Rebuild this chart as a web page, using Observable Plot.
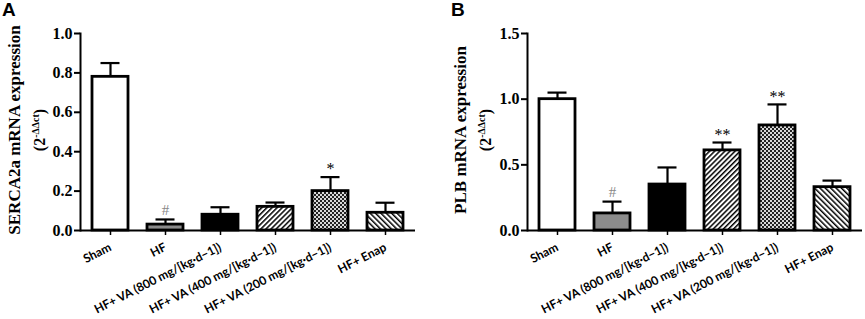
<!DOCTYPE html>
<html><head><meta charset="utf-8">
<script src="https://cdn.jsdelivr.net/npm/d3@7"></script>
<script src="https://cdn.jsdelivr.net/npm/@observablehq/plot@0.6"></script>
<style>
body{margin:0;background:#fff;}
#wrap{display:flex;width:865px;height:319px;}
.panel{position:relative;height:319px;}
.plabel{position:absolute;top:-1px;font:bold 19px "Liberation Sans",Arial,sans-serif;}
</style></head><body>
<svg width="0" height="0" style="position:absolute">
  <defs>
    <pattern id="hatchR" width="3.6" height="3.6" patternUnits="userSpaceOnUse" patternTransform="rotate(45)">
      <rect width="3.6" height="3.6" fill="white"/>
      <rect width="1.5" height="3.6" fill="black"/>
    </pattern>
    <pattern id="hatchL" width="3.8" height="3.8" patternUnits="userSpaceOnUse" patternTransform="rotate(-45)">
      <rect width="3.8" height="3.8" fill="white"/>
      <rect width="1.5" height="3.8" fill="black"/>
    </pattern>
    <pattern id="checker" width="4" height="4" patternUnits="userSpaceOnUse">
      <rect width="4" height="4" fill="#d8d8d8"/>
      <rect x="0" y="0" width="2" height="2" fill="#222"/>
      <rect x="2" y="2" width="2" height="2" fill="#222"/>
    </pattern>
  </defs>
</svg>
<div id="wrap"></div>
<script>
const groups = ["Sham","HF","HF+ VA (800 mg/[kg·d−1])","HF+ VA (400 mg/[kg·d−1])","HF+ VA (200 mg/[kg·d−1])","HF+ Enap"];
const fills = ["white","#8c8c8c","black","url(#hatchR)","url(#checker)","url(#hatchL)"];
const serca = [0.78,0.03,0.08,0.12,0.20,0.09];
const sercaTop = [0.85,0.056,0.118,0.142,0.271,0.141];
const sercaMark = ["","#","","","*",""];
const sercaTicks = [0,0.2,0.4,0.6,0.8,1.0];
const plb = [1.0,0.13,0.35,0.61,0.80,0.33];
const plbTop = [1.05,0.22,0.48,0.67,0.96,0.38];
const plbMark = ["","#","","**","**",""];
const plbTicks = [0,0.5,1.0,1.5];

function panel({letter, width, marginLeft, marginRight, ymax, ticks, vals, tops, marks, label, lx1, lx2, letterX}) {
  const data = groups.map((g,i)=>({g, v:vals[i], top:tops[i], fill:fills[i], mark:marks[i]}));
  const svg = Plot.plot({
    width, height:319, marginLeft, marginRight, marginTop:33, marginBottom:89,
    style:{background:"white", overflow:"visible"},
    x:{domain:groups, paddingInner:0.34, paddingOuter:0.17, label:null},
    y:{domain:[0,ymax], label:null},
    color:{type:"identity"},
    marks:[
      Plot.ruleX(data,{x:"g", y1:"v", y2:"top", strokeWidth:2.2}),
      Plot.tickY(data,{x:"g", y:"top", strokeWidth:2.2, insetLeft:8.5, insetRight:8.5}),
      Plot.barY(data,{x:"g", y:"v", fill:"fill", stroke:"black", strokeWidth:2.8}),
      Plot.text(data.filter(d=>d.mark==="#"),{x:"g", y:"top", text:"mark", dy:-9, fill:"#888", fontSize:15, fontFamily:"Liberation Serif"}),
      Plot.text(data.filter(d=>d.mark.startsWith("*")),{x:"g", y:"top", text:"mark", dy:-8, fill:"black", fontSize:16, fontFamily:"Liberation Serif"}),
      Plot.axisY({ticks, tickSize:6, tickPadding:2, tickFormat:".1f", fontFamily:"Liberation Serif", fontWeight:"bold", fontSize:16, strokeWidth:2, label:null}),
      Plot.axisX({tickSize:5, tickPadding:11, tickRotate:-27, fontFamily:"Lato", fontWeight:"bold", fontSize:12, strokeWidth:1.5, label:null}),
      Plot.ruleY([0],{strokeWidth:2}),
      Plot.frame({anchor:"left", strokeWidth:2})
    ]
  });
  const s = d3.select(svg);
  const cy = 130;
  s.append("text").attr("transform",`translate(${lx1},${cy}) rotate(-90)`)
    .attr("text-anchor","middle").attr("fill","black")
    .style("font","bold 17px 'Liberation Serif', serif").text(label);
  const t2 = s.append("text").attr("transform",`translate(${lx2},${cy}) rotate(-90)`)
    .attr("text-anchor","middle").attr("fill","black")
    .style("font","bold 16px 'Liberation Serif', serif");
  t2.append("tspan").text("(2");
  t2.append("tspan").attr("dy",-6).style("font-size","10px").text("-ΔΔct");
  t2.append("tspan").attr("dy",6).text(")");
  const div = document.createElement("div");
  div.className="panel"; div.style.width=width+"px";
  const lab = document.createElement("div");
  lab.className="plabel"; lab.style.left=letterX+"px"; lab.textContent=letter;
  div.appendChild(svg); div.appendChild(lab);
  document.getElementById("wrap").appendChild(div);
}

panel({letter:"A", width:432, marginLeft:80, marginRight:17, ymax:1.0, ticks:sercaTicks,
  vals:serca, tops:sercaTop, marks:sercaMark, label:"SERCA2a mRNA expression", lx1:20, lx2:45, letterX:2});
panel({letter:"B", width:433, marginLeft:95, marginRight:3, ymax:1.5, ticks:plbTicks,
  vals:plb, tops:plbTop, marks:plbMark, label:"PLB mRNA expression", lx1:34, lx2:59, letterX:19});
</script>
</body></html>
